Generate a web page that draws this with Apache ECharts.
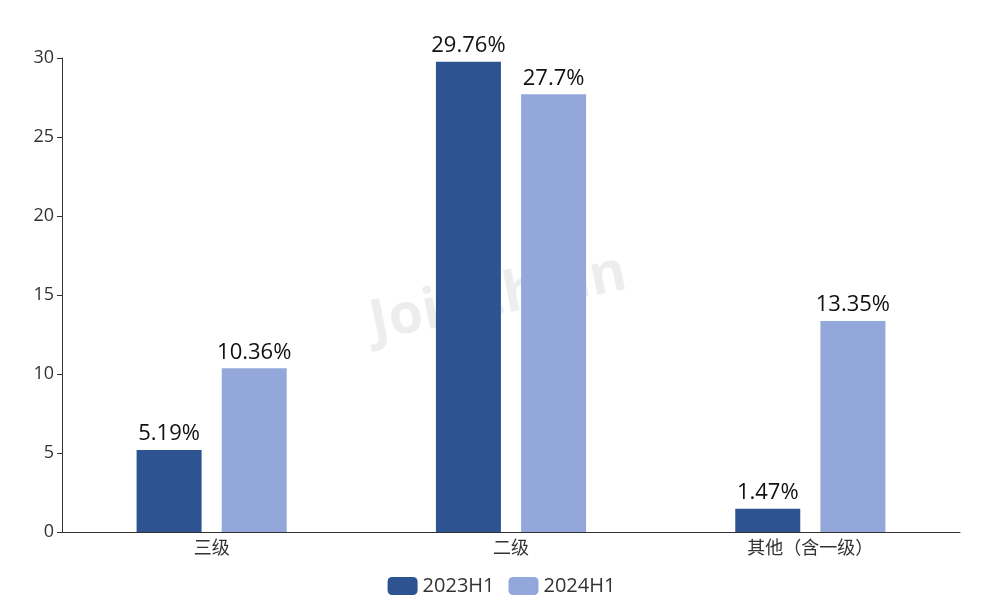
<!DOCTYPE html>
<html><head><meta charset="utf-8">
<script src="https://cdn.jsdelivr.net/npm/echarts@6/dist/echarts.min.js"></script>
<style>html,body{margin:0;padding:0;background:#fff}#c{width:1003px;height:615px}</style>
</head><body><div id="c"></div>
<script>
const categories = ['三级', '二级', '其他（含一级）'];
const s2023 = [5.19, 29.76, 1.47];
const s2024 = [10.36, 27.7, 13.35];
const yTicks = [0, 5, 10, 15, 20, 25, 30];
const font = '"Open Sans", "Noto Sans CJK SC", sans-serif';
const chart = echarts.init(document.getElementById('c'));
chart.setOption({
  animation: false,
  textStyle: { fontFamily: font },
  graphic: [{ type: 'text', left: 365, top: 245, rotation: 0.2, z: -10, silent: true,
    style: { text: 'Joinchain', font: 'bold 56px "Open Sans", sans-serif', fill: 'rgba(0,0,0,0.07)' } }],
  legend: { bottom: 14, itemWidth: 30, itemHeight: 18, itemGap: 14,
    textStyle: { fontSize: 20, color: '#333', fontFamily: font },
    data: ['2023H1', '2024H1'] },
  grid: { left: 62, right: 43, top: 58, bottom: 83 },
  xAxis: { type: 'category', data: categories,
    axisLine: { lineStyle: { color: '#333' } }, axisTick: { lineStyle: { color: '#333' } },
    axisLabel: { fontSize: 18, color: '#333', margin: 8 } },
  yAxis: { type: 'value', min: 0, max: 30, interval: 5, splitLine: { show: false },
    axisLine: { show: true, lineStyle: { color: '#333' } }, axisTick: { show: true, lineStyle: { color: '#333' } },
    axisLabel: { fontSize: 18, color: '#333', formatter: v => yTicks.includes(v) ? String(v) : '' } },
  series: [
    { name: '2023H1', type: 'bar', data: s2023, barWidth: 65, barGap: '31%',
      itemStyle: { color: '#2d5391' },
      label: { show: true, position: 'top', fontSize: 22, color: '#111', formatter: p => p.value + '%' } },
    { name: '2024H1', type: 'bar', data: s2024, barWidth: 65,
      itemStyle: { color: '#93a7db' },
      label: { show: true, position: 'top', fontSize: 22, color: '#111', formatter: p => p.value + '%' } }
  ]
});
</script></body></html>
